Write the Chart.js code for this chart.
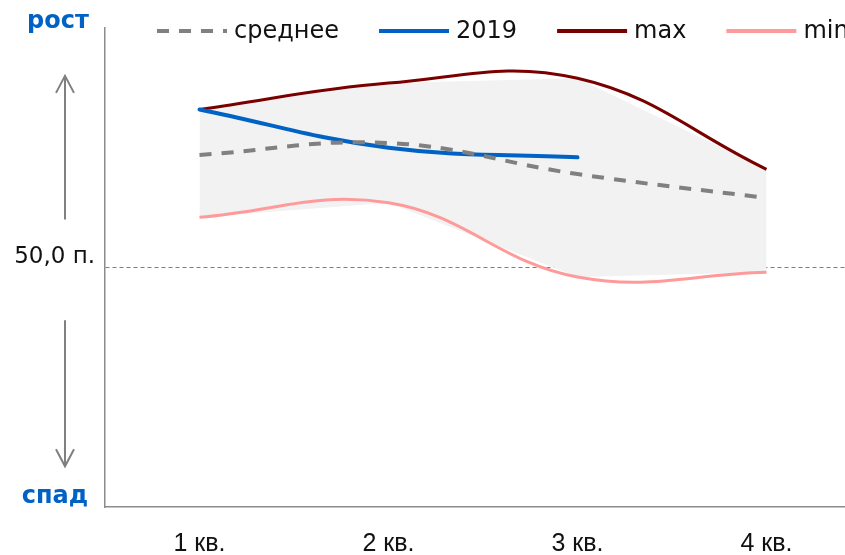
<!DOCTYPE html>
<html>
<head>
<meta charset="utf-8">
<script src="https://cdn.jsdelivr.net/npm/chart.js@4.4.1/dist/chart.umd.min.js"></script>
<style>
  html, body { margin: 0; padding: 0; background: #fff; overflow: hidden; }
  #wrap { position: relative; width: 870px; height: 555px; }
</style>
</head>
<body>
<div id="wrap"><canvas id="pmiChart"></canvas></div>
<script>
// quarterly index values
var quarters = ['1 кв.', '2 кв.', '3 кв.', '4 кв.'];
var avgValues = [54.7, 55.2, 53.9, 52.9];
var values2019 = [56.6, 55.0, 54.6, null];
var maxValues = [56.6, 57.7, 57.9, 54.1];
var minValues = [52.1, 52.7, 49.6, 49.8];
var threshold = 50;
var yRange = [40, 60];

var textFont = 'DejaVu Sans';
var blue = '#0062c4';
var grey = '#808080';

// legend row, 'рост' / 'спад' captions and the arrows
var decorations = {
    id: 'decorations',
    afterDraw: function (chart) {
        var ctx = chart.ctx;
        var area = chart.chartArea;
        var y = chart.scales.y;
        var ax = area.left - 40;

        ctx.save();
        ctx.fillStyle = blue;
        ctx.font = 'bold 24px ' + textFont;
        ctx.textAlign = 'center';
        ctx.textBaseline = 'alphabetic';
        ctx.fillText('рост', area.left - 47, area.top);
        ctx.fillText('спад', area.left - 50, area.bottom - 4);

        // arrows
        ctx.strokeStyle = grey;
        ctx.lineWidth = 2;
        var upTop = y.getPixelForValue(58), upBot = y.getPixelForValue(52);
        var dnTop = y.getPixelForValue(47.8), dnBot = y.getPixelForValue(41.7);
        ctx.beginPath();
        ctx.moveTo(ax, upBot); ctx.lineTo(ax, upTop);
        ctx.moveTo(ax - 9, upTop + 17); ctx.lineTo(ax, upTop); ctx.lineTo(ax + 9, upTop + 17);
        ctx.moveTo(ax, dnTop); ctx.lineTo(ax, dnBot);
        ctx.moveTo(ax - 9, dnBot - 17); ctx.lineTo(ax, dnBot); ctx.lineTo(ax + 9, dnBot - 17);
        ctx.stroke();

        // legend
        var lx = 157, ly = 31;
        ctx.font = '24px ' + textFont;
        ctx.textAlign = 'left';
        ctx.textBaseline = 'middle';
        chart.data.datasets.forEach(function (ds) {
            if (!ds.label) return;
            ctx.strokeStyle = ds.borderColor;
            ctx.lineWidth = 4;
            ctx.setLineDash(ds.borderDash || []);
            ctx.lineCap = 'butt';
            ctx.beginPath();
            ctx.moveTo(lx, ly);
            ctx.lineTo(lx + 70, ly);
            ctx.stroke();
            ctx.setLineDash([]);
            ctx.fillStyle = '#111';
            ctx.fillText(ds.label, lx + 77, ly + 1);
            lx += 77 + ctx.measureText(ds.label).width + 40;
        });
        ctx.restore();
    }
};

var lineStyle = function (label, data, color, width, extra) {
    var ds = {
        label: label,
        data: data,
        borderColor: color,
        borderWidth: width,
        tension: 0.4,
        pointRadius: 0,
        fill: false,
        spanGaps: false
    };
    return Object.assign(ds, extra || {});
};

new Chart(document.getElementById('pmiChart'), {
    type: 'line',
    data: {
        labels: quarters,
        datasets: [
            lineStyle('среднее', avgValues, grey, 4, { borderDash: [12, 10] }),
            lineStyle('2019', values2019, blue, 4, { borderCapStyle: 'round' }),
            lineStyle('max', maxValues, '#7a0000', 3),
            lineStyle('min', minValues, '#ff9a9a', 3),
            // shaded corridor between max and min
            { data: maxValues, borderWidth: 0, pointRadius: 0, tension: 0, fill: '+1', backgroundColor: '#f2f2f2' },
            { data: minValues, borderWidth: 0, pointRadius: 0, tension: 0, fill: false }
        ]
    },
    options: {
        responsive: true,
        maintainAspectRatio: false,
        animation: false,
        events: [],
        layout: { padding: { top: 28, right: 9, left: 0, bottom: 0 } },
        plugins: {
            legend: { display: false },
            tooltip: { enabled: false }
        },
        scales: {
            x: {
                offset: true,
                grid: { display: false, drawTicks: false },
                border: { color: '#8c8c8c', width: 1.5 },
                ticks: {
                    color: '#111',
                    padding: 22,
                    font: { family: 'Liberation Sans', size: 25 }
                },
                afterFit: function (scale) { scale.height = 48; }
            },
            y: {
                min: yRange[0],
                max: yRange[1],
                grid: { color: '#7f7f7f', lineWidth: 1, drawTicks: false },
                border: { color: '#8c8c8c', width: 1.5, dash: [4, 3] },
                afterBuildTicks: function (scale) { scale.ticks = [{ value: threshold }]; },
                afterFit: function (scale) { scale.width = 105; },
                ticks: {
                    color: '#111',
                    padding: 10,
                    labelOffset: -10,
                    font: { family: textFont, size: 23 },
                    callback: function (v) { return v.toFixed(1).replace('.', ',') + ' п.'; }
                }
            }
        }
    },
    plugins: [decorations]
});
</script>
</body>
</html>
